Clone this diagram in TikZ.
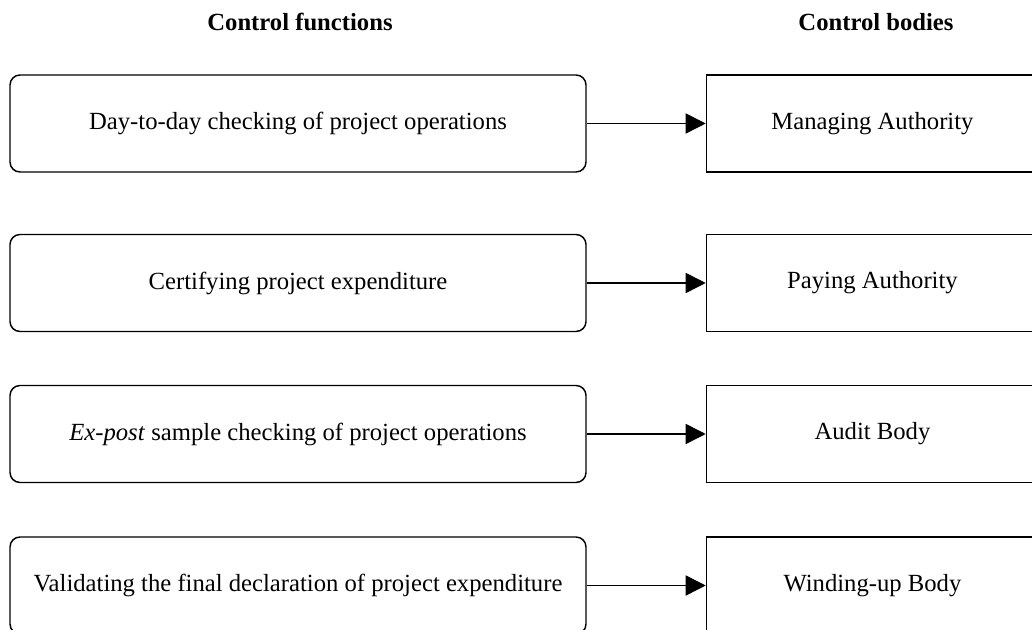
\documentclass[tikz,border=0pt]{standalone}
\usepackage{fontspec}
\setmainfont{Liberation Serif}
\usetikzlibrary{arrows.meta,positioning}
\tikzstyle{heading} = [font=\fontsize{18.5}{22}\selectfont\bfseries]
\tikzstyle{function} = [draw, line width=1.1pt, rounded corners=7.5pt, minimum width=432pt, minimum height=72.75pt, font=\fontsize{18.5}{22}\selectfont]
\tikzstyle{body} = [draw, line width=1.1pt, minimum width=249pt, minimum height=72.75pt, font=\fontsize{18.5}{22}\selectfont]
\tikzstyle{arrow} = [line width=1.1pt, -{Triangle[length=15pt,width=15pt]}]

\begin{document}
\begin{tikzpicture}[x=0.75pt, y=-0.75pt, node distance=89.25pt]
\clip (0,0) rectangle (1032,630);

% Column headings
\node[heading] (fhead) at (300,22) {Control functions};
\node[heading] (bhead) at (876,22) {Control bodies};

% Control functions
\node[function] (check) at (298,123.5) {Day-to-day checking of project operations};
\node[function] (certify) at (298,283) {Certifying project expenditure};
\node[function] (sample) at (298,434) {\textit{Ex-post} sample checking of project operations};
\node[function] (validate) at (298,585.5) {Validating the final declaration of project expenditure};

% Control bodies
\node[body, right=of check] (managing) {Managing Authority};
\node[body, right=of certify] (paying) {Paying Authority};
\node[body, right=of sample] (audit) {Audit Body};
\node[body, right=of validate] (windup) {Winding-up Body};

% Who does what
\draw[arrow] (check) -- (managing);
\draw[arrow] (certify) -- (paying);
\draw[arrow] (sample) -- (audit);
\draw[arrow] (validate) -- (windup);
\end{tikzpicture}
\end{document}
